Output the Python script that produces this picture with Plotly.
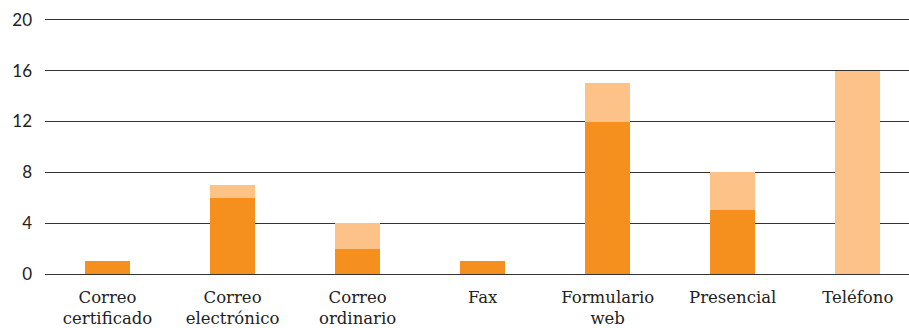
import plotly.graph_objects as go

categories = ["Correo<br>certificado", "Correo<br>electrónico", "Correo<br>ordinario", "Fax",
              "Formulario<br>web", "Presencial", "Teléfono"]
series_dark = [1, 6, 2, 1, 12, 5, 0]
series_light = [0, 1, 2, 0, 3, 3, 16]
y_ticks = [0, 4, 8, 12, 16, 20]

fig = go.Figure()
fig.add_trace(go.Bar(x=categories, y=series_dark, marker=dict(color="#F5901F", line=dict(width=0)), width=0.36))
fig.add_trace(go.Bar(x=categories, y=series_light, marker=dict(color="#FDC287", line=dict(width=0)), width=0.36))

fig.update_layout(
    barmode="stack",
    width=909, height=328,
    margin=dict(l=45, r=0, t=18, b=54),
    paper_bgcolor="white", plot_bgcolor="white",
    showlegend=False,
    xaxis=dict(range=[-0.5, 6.41], showgrid=False, showline=False, ticks="",
               tickfont=dict(family="DejaVu Serif", size=16.5, color="#222"),
               tickangle=0, ticklabelstandoff=11),
    yaxis=dict(range=[0, 20.15], tickvals=y_ticks, showgrid=True, gridcolor="#333", gridwidth=1,
               zeroline=True, zerolinecolor="#333", zerolinewidth=1,
               tickfont=dict(family="Lato", size=17, color="#222"), ticks="", ticklabelstandoff=12),
)
fig.write_html("out.html")
